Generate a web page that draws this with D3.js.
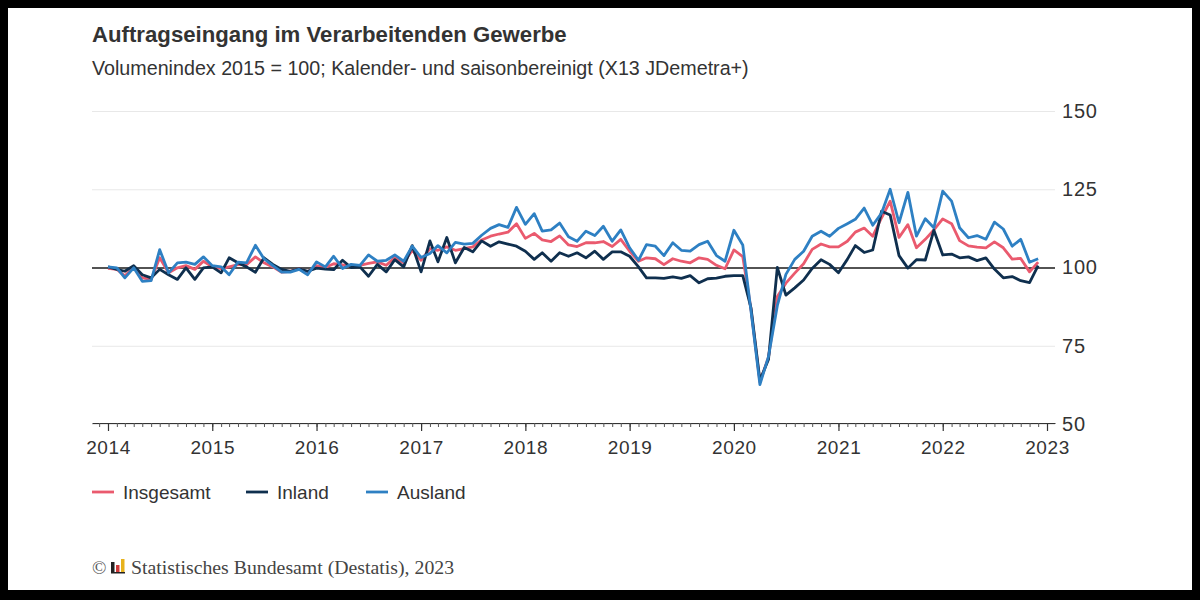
<!DOCTYPE html>
<html>
<head>
<meta charset="utf-8">
<script src="https://cdn.jsdelivr.net/npm/d3@7"></script>
<style>
  body { margin: 0; background: #000; }
  svg { display: block; font-family: "Liberation Sans", Arial, sans-serif; }
</style>
</head>
<body>
<svg id="chart"></svg>
<script>
// Monthly values Jan 2014 - Dec 2022
const insgesamt = [
  99.7, 99.4, 97.3, 100.2, 96.7, 96.2, 103.1, 98.3, 99.9, 100.6, 99.4, 102.0,
  100.2, 99.6, 100.2, 100.9, 100.9, 103.4, 101.5, 100.2, 98.5, 98.8, 99.6, 98.6,
  100.6, 100.0, 101.2, 100.8, 100.4, 100.7, 101.3, 101.8, 100.7, 103.2, 101.5, 105.5,
  102.3, 106.0, 105.5, 106.6, 105.5, 106.0, 106.6, 108.8, 110.0, 110.7, 111.3, 114.0,
  109.3, 110.9, 108.8, 108.3, 110.1, 107.2, 106.7, 107.9, 107.9, 108.3, 106.7, 109.0,
  105.2, 102.0, 103.1, 102.8, 100.9, 102.8, 102.0, 101.5, 103.1, 102.6, 100.7, 99.6,
  105.6, 103.5, 86.5, 63.4, 71.3, 90.7, 95.0, 98.2, 101.2, 105.8, 107.5, 106.6,
  106.6, 108.4, 111.3, 112.6, 110.0, 115.9, 121.2, 109.6, 113.7, 106.3, 109.0, 112.0,
  115.5, 114.0, 108.6, 106.9, 106.5, 106.3, 108.2, 106.3, 102.7, 102.9, 98.6, 101.7
];
const inland = [
  100.2, 99.4, 98.8, 100.6, 97.7, 96.7, 99.4, 97.7, 96.2, 99.9, 96.2, 99.9,
  100.2, 98.3, 103.1, 101.5, 100.2, 98.5, 103.1, 101.0, 99.4, 98.8, 99.6, 98.8,
  99.8, 99.5, 99.3, 102.3, 100.0, 100.2, 97.2, 101.0, 98.6, 102.5, 100.2, 107.0,
  98.6, 108.5, 101.8, 109.6, 101.5, 106.4, 105.0, 108.5, 106.8, 108.2, 107.5, 106.8,
  105.2, 102.6, 104.7, 102.0, 104.7, 103.6, 104.7, 103.1, 105.2, 102.6, 105.0, 105.0,
  103.6, 100.2, 96.7, 96.7, 96.5, 97.0, 96.5, 97.4, 95.1, 96.4, 96.6, 97.2,
  97.4, 97.4, 87.0, 64.0, 70.6, 100.0, 91.2, 93.5, 96.0, 99.7, 102.5, 101.0,
  98.3, 102.6, 107.0, 104.8, 105.6, 118.0, 116.8, 103.8, 99.8, 102.5, 102.4, 111.9,
  104.0, 104.3, 103.1, 103.4, 102.2, 103.1, 99.5, 96.7, 97.1, 95.8, 95.2, 100.6
];
const ausland = [
  100.2, 99.9, 96.7, 99.9, 95.6, 95.8, 105.7, 98.3, 101.5, 101.7, 101.0, 103.4,
  100.6, 100.2, 97.7, 101.7, 101.5, 107.1, 102.8, 100.6, 98.5, 98.5, 99.4, 97.7,
  101.8, 100.2, 103.6, 99.7, 101.0, 100.7, 104.0, 102.0, 102.3, 104.0, 102.0, 106.8,
  103.2, 104.5, 107.0, 104.7, 108.0, 107.5, 107.7, 110.3, 112.5, 113.7, 112.8, 119.2,
  113.8, 117.2, 111.6, 112.0, 114.2, 109.8, 108.4, 111.6, 110.2, 113.2, 108.4, 112.0,
  106.3, 102.3, 107.3, 106.8, 103.8, 107.9, 105.5, 105.2, 107.3, 108.4, 103.8, 102.0,
  111.9, 107.2, 86.0, 62.6, 71.5, 87.8, 97.8, 102.6, 105.2, 110.0, 111.6, 110.0,
  112.5, 114.0, 115.4, 119.0, 113.5, 117.4, 125.0, 114.3, 124.0, 110.0, 115.6, 112.7,
  124.4, 121.2, 112.7, 109.5, 110.2, 109.0, 114.5, 112.3, 106.8, 109.0, 101.7, 102.8
];
const months = d3.timeMonth.range(new Date(2014, 0, 1), new Date(2023, 0, 1));
const yTicks = [50, 75, 100, 125, 150];

const seriesNames = ['Insgesamt', 'Inland', 'Ausland'];
const seriesValues = [insgesamt, inland, ausland];
const seriesColors = ['#ea5a6e', '#0f2f4e', '#2e80c3'];

const width = 1200;
const height = 600;
const plot = { left: 92, right: 1055, top: 111, bottom: 424 };
const sans = '"Liberation Sans", Arial, sans-serif';
const serif = '"Liberation Serif", "Times New Roman", serif';

const svg = d3.select('#chart')
  .attr('width', width)
  .attr('height', height);

// white card inside the black frame
svg.append('rect')
  .attr('x', 8)
  .attr('y', 8)
  .attr('width', width - 16)
  .attr('height', height - 18)
  .attr('fill', '#fff');

const x = d3.scaleTime()
  .domain([new Date(2013, 10, 6), new Date(2023, 0, 29)])
  .range([plot.left, plot.right]);
const y = d3.scaleLinear()
  .domain([50, 150])
  .range([plot.bottom, plot.top]);

// Gridlines
svg.append('g')
  .attr('class', 'grid')
  .attr('transform', `translate(${plot.left}, 0)`)
  .call(d3.axisRight(y).tickValues(yTicks).tickSize(plot.right - plot.left).tickFormat(''))
  .call(g => g.select('.domain').remove())
  .call(g => g.selectAll('.tick line')
    .attr('stroke', d => (d === 100 ? '#1a1a1a' : '#e8e8e8'))
    .attr('stroke-width', d => (d === 100 ? 1.3 : 1)));

// Y labels on the right
svg.append('g')
  .attr('transform', `translate(${plot.right + 7}, 0)`)
  .call(d3.axisRight(y).tickValues(yTicks).tickSize(0).tickPadding(0))
  .call(g => g.select('.domain').remove())
  .call(g => g.selectAll('text')
    .attr('font-size', 20)
    .attr('letter-spacing', 0.8)
    .attr('fill', '#333')
    .attr('font-family', sans));

// X axis: month ticks, longer year ticks
const xAxisG = svg.append('g')
  .attr('transform', `translate(0, ${plot.bottom - 1})`);
xAxisG.append('g')
  .call(d3.axisBottom(x).ticks(d3.timeMonth.every(1)).tickSize(4).tickFormat('').tickSizeOuter(0))
  .call(g => g.select('.domain').attr('stroke', '#333').attr('stroke-width', 1.2))
  .call(g => g.selectAll('.tick line').attr('stroke', '#555'));
xAxisG.append('g')
  .call(d3.axisBottom(x).ticks(d3.timeYear.every(1)).tickSize(8).tickPadding(10)
    .tickFormat(d3.timeFormat('%Y')).tickSizeOuter(0))
  .call(g => g.select('.domain').remove())
  .call(g => g.selectAll('.tick line').attr('stroke', '#333').attr('stroke-width', 1.2))
  .call(g => g.selectAll('text')
    .attr('font-size', 19)
    .attr('letter-spacing', 0.6)
    .attr('fill', '#333')
    .attr('font-family', sans));

// Lines
const line = d3.line()
  .x((d, i) => x(months[i]))
  .y(d => y(d));

svg.selectAll('.series')
  .data(seriesValues)
  .enter().append('path')
    .attr('class', 'series')
    .attr('d', d => line(d))
    .attr('fill', 'none')
    .attr('stroke', (d, i) => seriesColors[i])
    .attr('stroke-width', 2.8)
    .attr('stroke-linejoin', 'round');

// Title and subtitle
svg.append('text')
  .attr('x', 92)
  .attr('y', 42)
  .attr('font-size', 22.2)
  .attr('font-weight', 'bold')
  .attr('fill', '#333')
  .text('Auftragseingang im Verarbeitenden Gewerbe');
svg.append('text')
  .attr('x', 92)
  .attr('y', 75)
  .attr('font-size', 19.7)
  .attr('fill', '#333')
  .text('Volumenindex 2015 = 100; Kalender- und saisonbereinigt (X13 JDemetra+)');

// Legend
const legendX = [92, 246, 366];
const legend = svg.append('g')
  .attr('transform', 'translate(0, 492)');
seriesNames.forEach((name, i) => {
  legend.append('line')
    .attr('x1', legendX[i])
    .attr('x2', legendX[i] + 22)
    .attr('stroke', seriesColors[i])
    .attr('stroke-width', 2.8);
  legend.append('text')
    .attr('x', legendX[i] + 31)
    .attr('y', 7)
    .attr('font-size', 19)
    .attr('fill', '#333')
    .text(name);
});

// Source line
const footer = svg.append('g')
  .attr('transform', 'translate(92, 574)');
footer.append('text')
  .attr('font-family', serif)
  .attr('font-size', 19)
  .attr('fill', '#555')
  .text('©');
const logo = footer.append('g').attr('transform', 'translate(19, -15)');
logo.append('rect').attr('x', 0).attr('y', 3).attr('width', 3.5).attr('height', 11).attr('fill', '#222');
logo.append('rect').attr('x', 5).attr('y', 6).attr('width', 3.5).attr('height', 8).attr('fill', '#d03b3b');
logo.append('rect').attr('x', 10).attr('y', 0).attr('width', 3.5).attr('height', 14).attr('fill', '#e7b21c');
logo.append('rect').attr('x', 0).attr('y', 13).attr('width', 14).attr('height', 1.5).attr('fill', '#222');
footer.append('text')
  .attr('x', 39)
  .attr('font-family', serif)
  .attr('font-size', 19.8)
  .attr('fill', '#444')
  .text('Statistisches Bundesamt (Destatis), 2023');
</script>
</body>
</html>
